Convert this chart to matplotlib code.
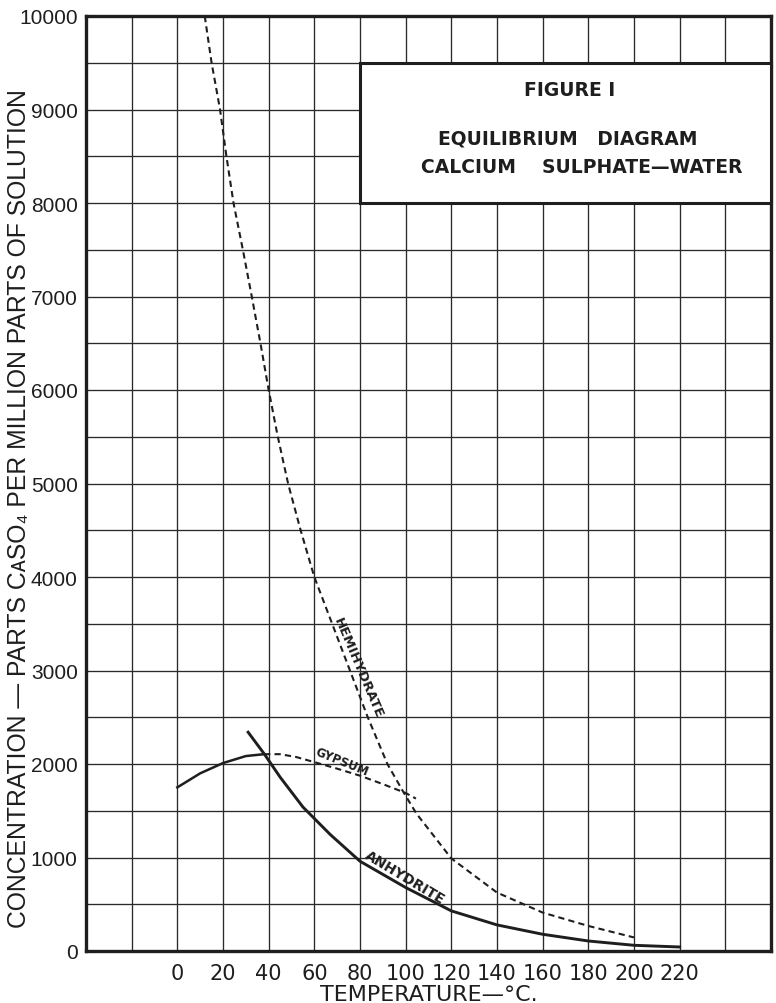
import matplotlib
matplotlib.use("Agg")
import matplotlib.pyplot as plt
import numpy as np
from matplotlib.patches import Rectangle

# ---- data ----
hemi_t = [12, 15, 18.7, 21.5, 24.6, 28.7, 32.6, 36.4, 40, 44, 48.5, 54, 60,
          67.8, 75.6, 83.4, 92, 99, 104.7, 120, 140, 160, 180, 200]
hemi_c = [10000, 9500, 9000, 8500, 8000, 7500, 7000, 6500, 6000, 5500, 5000,
          4500, 4000, 3500, 3000, 2500, 2000, 1700, 1470, 990, 625, 411, 268, 145]

gyp_solid_t = [0, 10, 20, 30, 38]
gyp_solid_c = [1750, 1900, 2010, 2085, 2105]
gyp_dash_t = [38, 45, 52, 60, 70, 80, 90, 100, 104.5]
gyp_dash_c = [2105, 2105, 2075, 2020, 1950, 1875, 1785, 1690, 1630]

anh_t = [31, 38, 45, 55, 67, 80, 100, 120, 140, 160, 180, 200, 220]
anh_c = [2340, 2110, 1860, 1540, 1245, 960, 679, 429, 279, 179, 107, 61, 43]

x_ticks = list(range(0, 221, 20))
y_ticks = list(range(0, 10001, 1000))

title_lines = ["FIGURE I", "EQUILIBRIUM   DIAGRAM", "CALCIUM    SULPHATE\u2014WATER"]

INK = "#1e1e1e"

fig = plt.figure(figsize=(7.76, 10.04), dpi=100)
W, H = 776, 1004
L, R, T, B = 86, 771, 17, 952
ax = fig.add_axes([L / W, 1 - B / H, (R - L) / W, (B - T) / H])
ax.set_xlim(-40, 260)
ax.set_ylim(0, 10000)

# grid
ax.set_xticks(np.arange(-40, 261, 20))
ax.set_xticklabels([str(v) if v in x_ticks else "" for v in np.arange(-40, 261, 20)])
ax.set_yticks(y_ticks)
ax.set_yticks(np.arange(500, 10000, 1000), minor=True)
ax.grid(True, which="both", color="#2a2a2a", linewidth=0.95)
ax.tick_params(which="both", length=0)
ax.tick_params(axis="x", pad=9)
ax.tick_params(axis="y", pad=6)
for s in ax.spines.values():
    s.set_linewidth(2.4)
    s.set_color(INK)
ax.set_axisbelow(True)

for lab in ax.get_xticklabels():
    lab.set_family(["Liberation Sans Narrow", "DejaVu Sans"])
    lab.set_fontsize(15)
    lab.set_color(INK)
for lab in ax.get_yticklabels():
    lab.set_family(["Liberation Sans", "DejaVu Sans"])
    lab.set_fontsize(15)
    lab.set_color(INK)

# curves
ax.plot(hemi_t, hemi_c, color=INK, linewidth=1.5, linestyle=(0, (3, 2)), zorder=3)
ax.plot(gyp_solid_t, gyp_solid_c, color=INK, linewidth=1.8, zorder=3)
ax.plot(gyp_dash_t, gyp_dash_c, color=INK, linewidth=1.5, linestyle=(0, (3, 2)), zorder=3)
ax.plot(anh_t, anh_c, color=INK, linewidth=2.1, zorder=3)

# curve labels
lab_kw = dict(family="DejaVu Sans", fontweight="bold", color=INK, ha="center",
              va="center", rotation_mode="anchor", zorder=4)
ax.text(79.3, 3030, "HEMIHYDRATE", fontsize=9.5, rotation=-67, **lab_kw)
ax.text(72, 2025, "GYPSUM", fontsize=8.5, rotation=-22, **lab_kw)
ax.text(99.5, 795, "ANHYDRITE", fontsize=10, rotation=-31, **lab_kw)

# title box
ax.add_patch(Rectangle((80, 8000), 180, 1500, facecolor="white", edgecolor=INK,
                       linewidth=2.2, zorder=5, clip_on=False))
tkw = dict(family="DejaVu Sans", fontweight="bold", color=INK, ha="center",
           va="center", zorder=6)
ax.text(172, 9210, title_lines[0], fontsize=13.5, **tkw)
ax.text(171, 8700, title_lines[1], fontsize=13.5, **tkw)
ax.text(177, 8390, title_lines[2], fontsize=13.5, **tkw)

# axis labels
fig.text((L + R) / 2 / W, 1 - 995 / H, "TEMPERATURE\u2014\u00b0C.",
         family=["Liberation Sans Narrow", "DejaVu Sans"], fontsize=16,
         color=INK, ha="center", va="center")
fig.text(19 / W, 1 - 509 / H,
         "CONCENTRATION \u2014 PARTS C\u1d00SO\u2084 PER MILLION PARTS OF SOLUTION",
         family=["Liberation Sans", "DejaVu Sans"], fontsize=17.8,
         color=INK, ha="center", va="center", rotation=90)

fig.savefig("out.png", dpi=100, facecolor="white")
